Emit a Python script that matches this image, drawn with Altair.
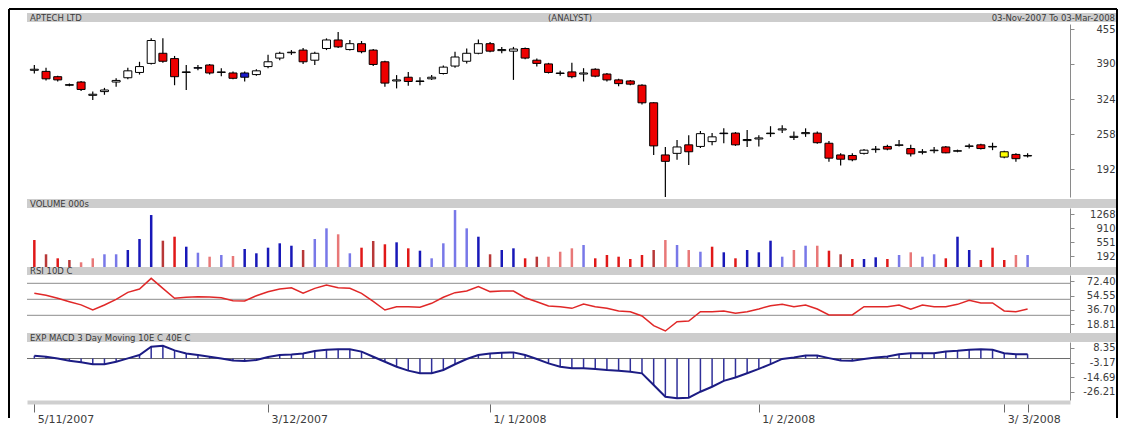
import altair as alt
import pandas as pd

# ---------------- data ----------------
opens = [378, 376, 366, 351, 356, 331, 338, 356, 364, 374,
         391, 410, 400, 375, 383, 388, 374, 373, 365, 370,
         385, 401, 411, 416, 397, 419, 435, 417, 428, 416,
         394, 358, 365, 358, 362, 372, 386, 395, 410, 428,
         415, 414, 419, 397, 390, 372, 375, 371, 380, 371,
         360, 358, 350, 317, 219, 222, 238, 235, 244, 260,
         260, 246, 249, 259, 266, 252, 259, 260, 241, 219,
         218, 222, 229, 235, 237, 231, 224, 227, 234, 226,
         235, 238, 234, 225, 220, 217]
highs = [388, 383, 368, 353, 358, 338, 345, 363, 383, 394,
         438, 438, 405, 388, 388, 390, 382, 376, 376, 380,
         407, 413, 416, 420, 413, 438, 450, 435, 433, 418,
         396, 369, 375, 365, 369, 387, 413, 419, 436, 431,
         422, 422, 421, 400, 392, 377, 392, 382, 382, 373,
         362, 360, 352, 318, 234, 247, 256, 264, 260, 269,
         262, 266, 256, 273, 275, 263, 269, 263, 245, 222,
         222, 230, 236, 238, 247, 238, 230, 234, 236, 229,
         240, 240, 242, 227, 222, 222]
lows = [372, 359, 357, 348, 339, 322, 332, 347, 361, 370,
        389, 392, 350, 341, 378, 370, 367, 361, 357, 368,
        382, 397, 407, 390, 388, 416, 420, 415, 410, 386,
        347, 344, 349, 350, 360, 370, 383, 391, 408, 412,
        410, 360, 399, 385, 372, 368, 363, 357, 365, 357,
        348, 350, 314, 219, 140, 210, 200, 232, 237, 241,
        236, 234, 235, 253, 260, 247, 253, 240, 206, 199,
        207, 220, 223, 228, 235, 216, 220, 222, 222, 224,
        231, 229, 228, 213, 206, 214]
closes = [380, 362, 360, 350, 342, 333, 341, 359, 377, 385,
          434, 395, 366, 374, 382, 373, 375, 363, 373, 377,
          394, 410, 412, 394, 410, 435, 422, 428, 413, 389,
          354, 360, 357, 357, 365, 384, 403, 410, 428, 414,
          417, 418, 401, 391, 374, 373, 366, 373, 367, 360,
          353, 352, 317, 236, 207, 234, 225, 259, 253, 259,
          238, 248, 251, 260, 268, 254, 261, 242, 213, 211,
          210, 228, 230, 230, 238, 221, 225, 228, 223, 227,
          236, 231, 235, 215, 212, 218]
# candle colour kind: U up (white), D down (red), K black doji, B blue, G green, Y yellow
kinds = ["U", "D", "D", "K", "D", "U", "U", "U", "U", "U",
         "U", "D", "D", "K", "B", "D", "U", "D", "B", "U",
         "U", "U", "U", "D", "U", "U", "D", "U", "D", "D",
         "D", "U", "D", "K", "U", "U", "U", "U", "U", "D",
         "U", "U", "D", "D", "D", "U", "D", "U", "D", "D",
         "D", "D", "D", "D", "D", "U", "D", "U", "U", "B",
         "D", "U", "U", "G", "U", "U", "U", "D", "D", "D",
         "D", "U", "U", "D", "U", "D", "U", "U", "D", "U",
         "U", "D", "U", "Y", "D", "U"]
volumes = [609, 248, 146, 103, 45, 146, 248, 248, 356, 635,
           1242, 592, 693, 440, 288, 187, 230, 205, 382, 273,
           415, 526, 465, 356, 635, 905, 754, 273, 415, 584,
           501, 551, 399, 339, 146, 526, 1368, 905, 693, 248,
           356, 399, 146, 187, 187, 313, 399, 483, 146, 230,
           187, 129, 230, 356, 609, 483, 356, 313, 440, 298,
           146, 356, 298, 592, 187, 356, 465, 465, 339, 248,
           129, 129, 172, 129, 230, 298, 187, 248, 146, 693,
           356, 103, 415, 103, 230, 230]
# volume colour: r red, d dark red, p pink, b blue, l light blue
vol_colors = ["r", "d", "r", "d", "p", "p", "l", "l", "b", "b",
              "b", "d", "r", "b", "l", "p", "l", "p", "b", "b",
              "b", "b", "b", "d", "l", "l", "p", "l", "r", "d",
              "r", "b", "r", "b", "l", "l", "l", "l", "b", "d",
              "b", "b", "r", "d", "p", "p", "p", "l", "r", "r",
              "r", "r", "r", "d", "p", "l", "p", "l", "r", "b",
              "r", "b", "b", "b", "l", "p", "l", "p", "r", "d",
              "r", "b", "b", "r", "l", "p", "l", "l", "r", "b",
              "b", "r", "r", "r", "p", "l"]
rsi = [57.5, 55, 51.2, 47, 43, 36.6, 42.9, 50, 58.7, 62.9,
       76.2, 63.7, 51.2, 52.5, 53.3, 53, 52, 48.3, 47.9, 54.5,
       59.5, 62.9, 64.5, 57.5, 63.7, 67.9, 64.5, 63.7, 57.5, 47.5,
       36.6, 40.8, 40.8, 40, 45, 52.5, 58.3, 60.4, 65.8, 59.6,
       60.4, 60.4, 52, 47, 41.6, 40.8, 38.7, 44.1, 40.8, 38.7,
       35.4, 34.5, 29.1, 17, 10.4, 22, 22.9, 34.5, 34.5, 35.4,
       32.5, 34.5, 37.9, 42, 43.7, 40.8, 42.9, 37.9, 30.4, 30.4,
       30.4, 40.8, 40.8, 40.8, 42.9, 37.5, 42.9, 40.8, 40.8, 43.7,
       48.7, 45.4, 45.4, 35.4, 34.5, 37.9]
macd = [2.2, 1.4, 0.1, -1.7, -3, -4.5, -4.5, -2.5, 0.1, 2.7,
        9.3, 10, 6.4, 4, 2.7, 1.4, 0.1, -1.5, -2, -1.2,
        1.2, 2.7, 3.2, 4, 5.9, 6.9, 7.2, 7.2, 5.4, 1.4,
        -2.5, -6.4, -9.5, -11.6, -11.6, -9, -4.5, -0.4, 2.7, 4,
        4.5, 4.8, 2.7, -0.4, -3.8, -6.4, -7.7, -7.7, -8.2, -9,
        -9.5, -10.3, -11.6, -20.8, -29.9, -31.2, -30.7, -26, -22.1, -17.5,
        -14.9, -11.5, -8.1, -4.4, -0.3, 0.8, 2.3, 2.3, 0.3, -1.6,
        -1.8, -0.3, 0.8, 1.6, 3.4, 4.2, 4.2, 4.2, 5.5, 6,
        6.8, 7.3, 6.8, 4.2, 3.4, 3.4]

tick_idx = [0, 20, 39, 62, 83, 85]
tick_lbl = ["5/11/2007", "3/12/2007", "1/ 1/2008", "1/ 2/2008", "3/ 3/2008", ""]
price_ticks = [455, 390, 324, 258, 192]
vol_ticks = [1268, 910, 551, 192]
rsi_ticks = [72.40, 54.55, 36.70, 18.81]
rsi_levels = [70, 50, 30]
macd_ticks = [8.35, -3.17, -14.69, -26.21]

title_left = "APTECH LTD"
title_mid = "(ANALYST)"
title_right = "03-Nov-2007 To 03-Mar-2008"
vol_title = "VOLUME 000s"
rsi_title = "RSI 10D C"
macd_title = "EXP MACD 3 Day Moving 10E C 40E C"

df = pd.DataFrame({
    "idx": list(range(len(opens))), "open": opens, "high": highs, "low": lows,
    "close": closes, "kind": kinds, "vol": volumes, "vc": vol_colors,
    "rsi": rsi, "macd": macd,
})

# ---------------- layout / style ----------------
W, H = 1043, 387
FONT = "DejaVu Sans"
VOL_MIN = -74

x_expr = " : ".join(f"datum.value == {i} ? '{l}'" for i, l in zip(tick_idx, tick_lbl)) + " : ''"
x_axis = alt.Axis(values=tick_idx, labelExpr=x_expr, title=None, grid=False, orient="bottom",
                  domainColor="#CFCFCF", domainWidth=4, offset=2, tickColor="#6A6A6A",
                  tickSize=10, tickWidth=1, labelAlign="left", labelOffset=3, labelBaseline="top",
                  labelPadding=1, labelFontSize=11, labelOverlap=False, labelFlush=False)
X = alt.X("idx:Q", scale=alt.Scale(domain=[-0.2, 88.2], nice=False, zero=False), axis=x_axis)


def y_axis(vals, expr):
    return alt.Axis(values=vals, labelExpr=expr, orient="right", title=None, grid=False,
                    domainColor="#8A8A8A", tickColor="#8A8A8A", tickSize=4, labelAlign="right",
                    labelPadding=41, labelBaseline="middle", labelOverlap=False, labelFlush=False)


int_expr = "format(datum.value, 'd')"
dec_expr = "replace(format(datum.value, '.2f'), '\u2212', '-')"

PS = alt.Scale(domain=[140, 465], range=[184, 11], nice=False, zero=False)
VS = alt.Scale(domain=[VOL_MIN, 1420], range=[254, 195], nice=False, zero=False)
RS = alt.Scale(domain=[6.625, 80.375], range=[321, 262], nice=False, zero=False)
MS = alt.Scale(domain=[-32.5, 12.95], range=[387, 329], nice=False, zero=False)

base = alt.Chart(df)
one = pd.DataFrame({"a": [0]})

wick = base.mark_rule(color="black", strokeWidth=1.2).encode(
    x=X, y=alt.Y("low:Q", scale=PS, axis=y_axis(price_ticks, int_expr)), y2="high:Q")
body = base.mark_bar(size=8, stroke="black", strokeWidth=1).encode(
    x=X, y=alt.Y("open:Q", scale=PS, axis=None), y2="close:Q",
    fill=alt.Fill("kind:N", scale=alt.Scale(domain=["U", "D", "K", "B", "G", "Y"],
                  range=["#FFFFFF", "#EE0000", "#111111", "#1A1ACC", "#3CB43C", "#FFFF00"]),
                  legend=None))
vol = base.mark_rule(strokeWidth=2.5).encode(
    x=X, y=alt.Y("vol:Q", scale=VS, axis=y_axis(vol_ticks, int_expr)), y2=alt.datum(VOL_MIN),
    color=alt.Color("vc:N", scale=alt.Scale(domain=["r", "d", "p", "b", "l"],
                    range=["#E01818", "#B83838", "#E87878", "#1818B8", "#7878E8"]), legend=None))
rsi_lv = alt.Chart(pd.DataFrame({"lvl": rsi_levels})).mark_rule(color="#8C8C8C", strokeWidth=1).encode(
    y=alt.Y("lvl:Q", scale=RS, axis=None))
rsi_line = base.mark_line(color="#E02828", strokeWidth=1.5).encode(
    x=X, y=alt.Y("rsi:Q", scale=RS, axis=y_axis(rsi_ticks, dec_expr)))
macd_zero = alt.Chart(pd.DataFrame({"z": [0]})).mark_rule(color="#6A6A6A", strokeWidth=1).encode(
    y=alt.Y("z:Q", scale=MS, axis=None))
macd_hist = base.mark_rule(color="#30309A", strokeWidth=1.5).encode(
    x=X, y=alt.Y("macd:Q", scale=MS, axis=None), y2=alt.datum(0))
macd_line = base.mark_line(color="#1C1C84", strokeWidth=2).encode(
    x=X, y=alt.Y("macd:Q", scale=MS, axis=y_axis(macd_ticks, dec_expr)))


def band(y0, y1):
    return alt.Chart(one).mark_rect(color="#CDCDCD").encode(
        x=alt.value(0), x2=alt.value(1090), y=alt.value(y0), y2=alt.value(y1))


def label(txt, x, y, align="left"):
    return alt.Chart(one).mark_text(align=align, baseline="middle", font=FONT, fontSize=8.5,
                                    color="#3A3A3A").encode(
        x=alt.value(x), y=alt.value(y), text=alt.value(txt))


def frame_v(x):
    return alt.Chart(one).mark_rule(color="black", strokeWidth=2).encode(
        x=alt.value(x), y=alt.value(-4), y2=alt.value(405))


frame_top = alt.Chart(one).mark_rule(color="black", strokeWidth=2).encode(
    x=alt.value(-18), x2=alt.value(1090), y=alt.value(-4))

chart = alt.layer(
    band(0, 9), band(186, 195), band(254, 262), band(320, 329),
    label(title_left, 3, 4.5), label(title_mid, 543, 4.5, "center"),
    label(title_right, 1088, 4.5, "right"),
    label(vol_title, 3, 190.5), label(rsi_title, 3, 258), label(macd_title, 3, 324.5),
    rsi_lv, macd_zero,
    wick, body, vol, rsi_line, macd_hist, macd_line,
    frame_top, frame_v(-18), frame_v(1090),
).resolve_scale(y="independent", color="independent").properties(
    width=W, height=H, padding=0
).configure_view(stroke=None).configure_axis(
    labelFont=FONT, labelFontSize=10, labelColor="#3C3C3C"
)

chart.save("out.html", embed_options={"renderer": "svg", "actions": False})
